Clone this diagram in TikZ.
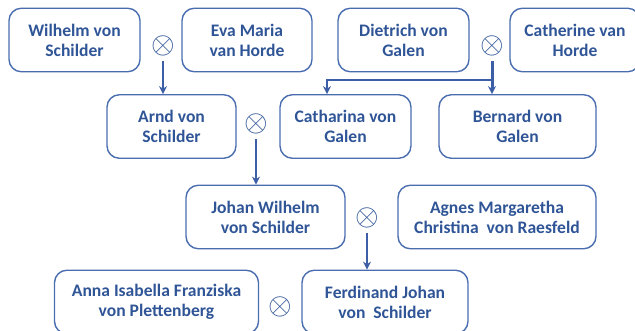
\documentclass[tikz,border=0pt]{standalone}
\usepackage{fontspec}
\setsansfont{Carlito}
\usepackage{xcolor}
\usepackage{tikz}
\usetikzlibrary{positioning,calc,arrows.meta}
\definecolor{txtblue}{HTML}{2F5597}
\definecolor{boxblue}{HTML}{4A6DB0}
\definecolor{arrblue}{HTML}{3B5EA6}
\begin{document}
\begin{tikzpicture}[
	x=0.02cm, y=-0.02cm, % 1 don vi = 1 pixel cua hinh goc
	person/.style={
		draw=boxblue,         % vien xanh
		line width=0.8pt,
		rounded corners=7pt,
		minimum height=1.27cm,
		align=center,
		text=txtblue,
		font=\sffamily\bfseries\fontsize{10}{11.3}\selectfont,
		anchor=center
	},
	wed/.style={              % dau ket hon
		text=txtblue, inner sep=0pt,
		font=\fontsize{16}{16}\selectfont
	},
	child/.style={            % mui ten xanh xuong con
		-{Stealth[length=4.5pt,width=4.5pt]},
		arrblue, line width=1.7pt
	},
	link/.style={
		arrblue, line width=1.7pt
	}
	]
	\useasboundingbox (0,0) rectangle (635,331);
	\clip (0,0) rectangle (635,331);
	
	% --- HANG 1 ---
	\node[person, minimum width=2.62cm] (wilhelm) at (74.5,40) {Wilhelm von\\Schilder};
	\node[person, minimum width=2.6cm] (eva) at (247,40) {Eva Maria\\van Horde};
	\node[person, minimum width=2.62cm] (dietrich) at (403.5,40) {Dietrich von\\Galen};
	\node[person, minimum width=2.6cm] (catherine) at (575,40) {Catherine van\\Horde};
	\node[wed] (m1) at (163,46) {$\otimes$};
	\node[wed] (m3) at (492,46) {$\otimes$};
	
	% --- HANG 2 ---
	\node[person, minimum width=2.58cm] (arnd) at (171.5,126.5) {Arnd von\\Schilder};
	\node[person, minimum width=2.62cm] (catharina) at (345.5,126.5) {Catharina von\\Galen};
	\node[person, minimum width=3.14cm] (bernard) at (517.5,126.5) {Bernard von\\Galen};
	\node[wed] (m2) at (256,124) {$\otimes$};
	
	% --- HANG 3 ---
	\node[person, minimum width=3.18cm] (johan) at (265.5,217) {Johan Wilhelm\\von Schilder};
	\node[person, minimum width=3.96cm] (agnes) at (497,217) {Agnes Margaretha\\Christina\ \ von Raesfeld};
	\node[wed] (m4) at (367,218) {$\otimes$};
	
	% --- HANG 4 ---
	\node[person, minimum width=4.08cm] (anna) at (156.5,302) {Anna Isabella Franziska\\von Plettenberg};
	\node[person, minimum width=3.32cm] (ferdinand) at (385,302) {Ferdinand Johan\\von\ \ Schilder};
	\node[wed] (m5) at (280,307) {$\otimes$};
	
	% Mui ten tu dau ket hon xuong con
	\draw[child] ([yshift=-0.1cm]m1.south) -- (m1 |- arnd.north);
	\draw[child] ([yshift=-0.1cm]m2.south) -- (m2 |- johan.north);
	\draw[child] ([yshift=-0.1cm]m4.south) -- (m4 |- ferdinand.north);
	
	% Nhanh hai con cua Dietrich va Catherine
	\coordinate (split) at (492,80);
	\coordinate (left) at (327,80);
	\draw[link] ([yshift=-0.1cm]m3.south) -- (split);
	\draw[child] (split) -- (left) -- (left |- catharina.north);
	\draw[child] (split) -- (split |- bernard.north);
\end{tikzpicture}
\end{document}
